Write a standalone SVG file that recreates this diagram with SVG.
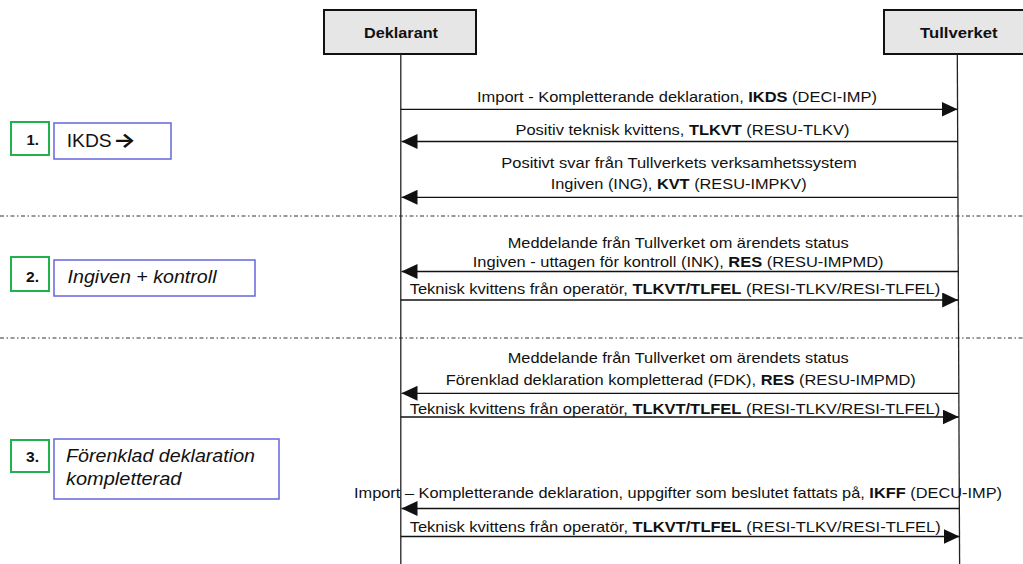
<svg xmlns="http://www.w3.org/2000/svg" width="1023" height="564" viewBox="0 0 1023 564">
  <defs>
    <marker id="ah" markerUnits="userSpaceOnUse" markerWidth="16" markerHeight="15" refX="16" refY="7.5" orient="auto">
      <path d="M0,0 L16,7.5 L0,15 Z" fill="#111"/>
    </marker>
  </defs>
  <style>
    text { font-family: "Liberation Sans", Arial, sans-serif; fill: #111; }
    .msg { font-size: 15px; }
    .b { font-weight: bold; }
    .hdr { fill: #e6e6e6; stroke: #111; stroke-width: 2; }
    .hdrt { font-size: 15px; font-weight: bold; }
    .life { stroke: #222; stroke-width: 1.3; fill: none; }
    .conn { stroke: #111; stroke-width: 1.3; fill: none; marker-end: url(#ah); }
    .sep { stroke: #333; stroke-width: 1; stroke-dasharray: 4 2.5 1.5 2.5; fill: none; }
    .num { fill: #fff; stroke: #22b14c; stroke-width: 2; }
    .lbl { fill: #fff; stroke: #6666dd; stroke-width: 1.5; }
    .numt { font-size: 14.5px; font-weight: bold; }
    .lblt { font-size: 17.6px; }
    .it { font-style: italic; }
    .arr { font-family: Inter, "DejaVu Sans", sans-serif; font-size: 20px; font-weight: 700; }
  </style>
  <rect width="1023" height="564" fill="#fff"/>

  <!-- separators -->
  <g id="separators">
    <line class="sep" x1="0" y1="216" x2="1023" y2="216"/>
    <line class="sep" x1="0" y1="338" x2="1023" y2="338"/>
  </g>

  <!-- actors -->
  <g id="deklarant">
    <rect class="hdr" x="324" y="10" width="152" height="44"/>
    <text class="hdrt" x="364" y="37.5" textLength="74" lengthAdjust="spacingAndGlyphs">Deklarant</text>
    <line class="life" x1="400.8" y1="54" x2="400.8" y2="564"/>
  </g>
  <g id="tullverket">
    <rect class="hdr" x="884" y="10" width="150" height="44"/>
    <text class="hdrt" x="920" y="37.5" textLength="77.6" lengthAdjust="spacingAndGlyphs">Tullverket</text>
    <line class="life" x1="957.3" y1="54" x2="959.6" y2="564"/>
  </g>

  <!-- step labels -->
  <g id="step1">
    <rect class="num" x="11" y="122" width="38" height="33"/>
    <text class="numt" x="26.5" y="144.5" textLength="12.5" lengthAdjust="spacingAndGlyphs">1.</text>
    <rect class="lbl" x="54" y="123" width="117" height="36"/>
    <text class="lblt" x="66.7" y="146.7" textLength="45" lengthAdjust="spacingAndGlyphs">IKDS</text>
    <text class="arr" x="113" y="146.5" textLength="23" lengthAdjust="spacingAndGlyphs">→</text>
  </g>
  <g id="step2">
    <rect class="num" x="11" y="257" width="38" height="34"/>
    <text class="numt" x="26" y="282" textLength="13" lengthAdjust="spacingAndGlyphs">2.</text>
    <rect class="lbl" x="54" y="260" width="201" height="36"/>
    <text class="lblt it" x="67.5" y="283" textLength="149" lengthAdjust="spacingAndGlyphs">Ingiven + kontroll</text>
  </g>
  <g id="step3">
    <rect class="num" x="11" y="440" width="38" height="32"/>
    <text class="numt" x="26" y="462" textLength="13" lengthAdjust="spacingAndGlyphs">3.</text>
    <rect class="lbl" x="54" y="439" width="225" height="60"/>
    <text class="lblt it" x="66" y="462" textLength="189" lengthAdjust="spacingAndGlyphs">Förenklad deklaration</text>
    <text class="lblt it" x="66" y="485" textLength="115.5" lengthAdjust="spacingAndGlyphs">kompletterad</text>
  </g>

  <!-- connectors -->
  <g id="connectors">
    <line class="conn" x1="400.8" y1="109.3" x2="957.5" y2="109.3"/>
    <line class="conn" x1="957.5" y1="141.5" x2="401.5" y2="141.5"/>
    <line class="conn" x1="957.8" y1="197.3" x2="401.5" y2="197.3"/>
    <line class="conn" x1="958" y1="271.5" x2="401.5" y2="271.5"/>
    <line class="conn" x1="400.8" y1="300" x2="958.2" y2="300"/>
    <line class="conn" x1="958.6" y1="393.3" x2="401.5" y2="393.3"/>
    <line class="conn" x1="400.8" y1="417" x2="958.7" y2="417"/>
    <line class="conn" x1="959.2" y1="508.5" x2="401.5" y2="508.5"/>
    <line class="conn" x1="400.8" y1="536.5" x2="959.6" y2="536.5"/>
  </g>

  <!-- connector labels -->
  <g id="connector-labels" class="msg">
    <text class="msg" x="477" y="102" textLength="400" lengthAdjust="spacingAndGlyphs">Import - Kompletterande deklaration, <tspan class="b">IKDS</tspan> (DECI-IMP)</text>
    <text class="msg" x="515.5" y="135" textLength="334" lengthAdjust="spacingAndGlyphs">Positiv teknisk kvittens, <tspan class="b">TLKVT</tspan> (RESU-TLKV)</text>
    <text class="msg" x="501.3" y="167.5" textLength="355.5" lengthAdjust="spacingAndGlyphs">Positivt svar från Tullverkets verksamhetssystem</text>
    <text class="msg" x="550.7" y="188.5" textLength="256" lengthAdjust="spacingAndGlyphs">Ingiven (ING), <tspan class="b">KVT</tspan> (RESU-IMPKV)</text>
    <text class="msg" x="507.7" y="247.7" textLength="341" lengthAdjust="spacingAndGlyphs">Meddelande från Tullverket om ärendets status</text>
    <text class="msg" x="472.8" y="266.7" textLength="410.7" lengthAdjust="spacingAndGlyphs">Ingiven - uttagen för kontroll (INK), <tspan class="b">RES</tspan> (RESU-IMPMD)</text>
    <text class="msg" x="409.7" y="293.5" textLength="530.5" lengthAdjust="spacingAndGlyphs">Teknisk kvittens från operatör, <tspan class="b">TLKVT/TLFEL</tspan> (RESI-TLKV/RESI-TLFEL)</text>
    <text class="msg" x="507.7" y="362.7" textLength="341" lengthAdjust="spacingAndGlyphs">Meddelande från Tullverket om ärendets status</text>
    <text class="msg" x="445.8" y="385" textLength="470" lengthAdjust="spacingAndGlyphs">Förenklad deklaration kompletterad (FDK), <tspan class="b">RES</tspan> (RESU-IMPMD)</text>
    <text class="msg" x="409.7" y="414" textLength="530.5" lengthAdjust="spacingAndGlyphs">Teknisk kvittens från operatör, <tspan class="b">TLKVT/TLFEL</tspan> (RESI-TLKV/RESI-TLFEL)</text>
    <text class="msg" x="354" y="497.5" textLength="648" lengthAdjust="spacingAndGlyphs">Import – Kompletterande deklaration, uppgifter som beslutet fattats på, <tspan class="b">IKFF</tspan> (DECU-IMP)</text>
    <text class="msg" x="409.7" y="532" textLength="531" lengthAdjust="spacingAndGlyphs">Teknisk kvittens från operatör, <tspan class="b">TLKVT/TLFEL</tspan> (RESI-TLKV/RESI-TLFEL)</text>
  </g>
</svg>
